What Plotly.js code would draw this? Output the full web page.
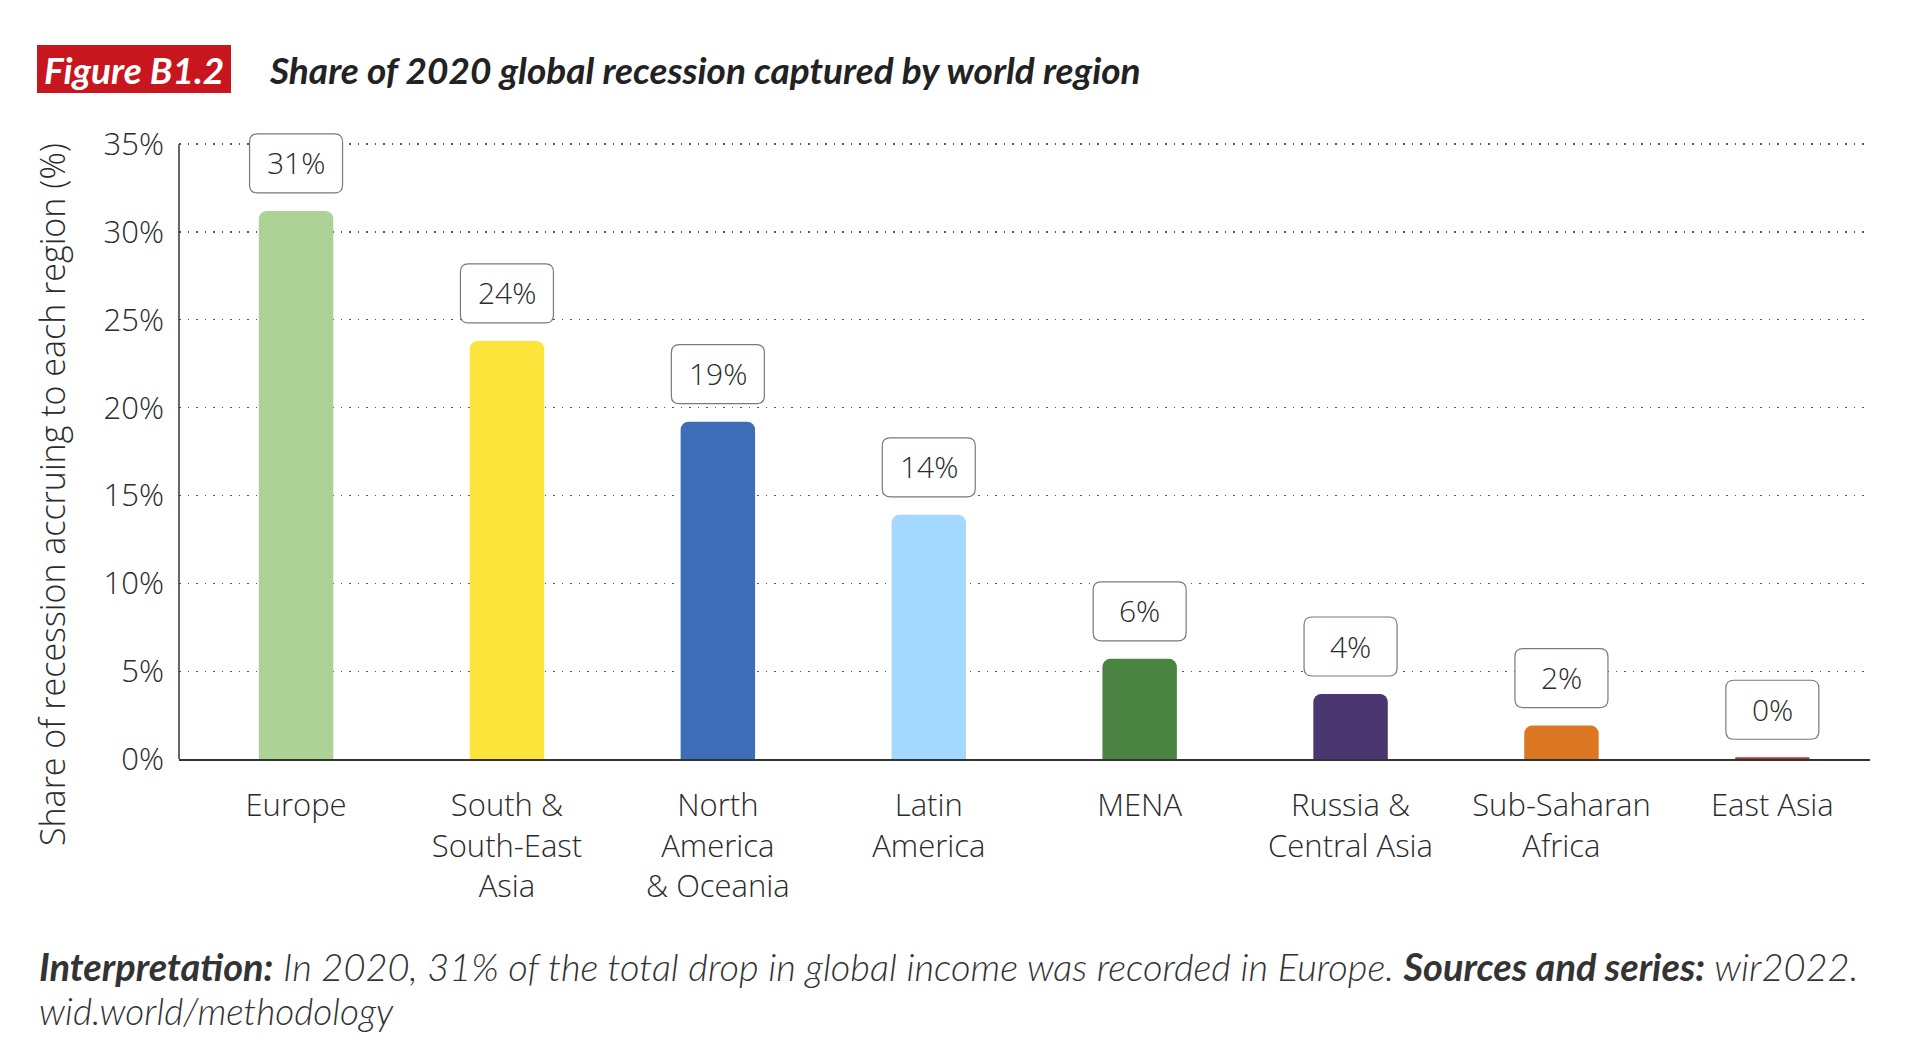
<!DOCTYPE html>
<html>
<head>
<meta charset="utf-8">
<script src="https://cdn.plot.ly/plotly-3.0.1.min.js"></script>
<style>
  html, body { margin: 0; padding: 0; background: #fff; }
  #chart { width: 1913px; height: 1064px; }
</style>
</head>
<body>
<div id="chart"></div>
<script>
// ---- data ----
const regions = ['Europe', 'South &<br>South-East<br>Asia', 'North<br>America<br>& Oceania', 'Latin<br>America', 'MENA', 'Russia &<br>Central Asia', 'Sub-Saharan<br>Africa', 'East Asia'];
const shares = [31.2, 23.8, 19.2, 13.9, 5.7, 3.7, 1.9, 0.1];
const shareLabels = ['31%', '24%', '19%', '14%', '6%', '4%', '2%', '0%'];
const barColors = ['#ADD295', '#FCE43A', '#3E6EB7', '#A4D8FE', '#4A8342', '#4B376F', '#DC7823', '#B03A2E'];
const yTickVals = [0, 5, 10, 15, 20, 25, 30, 35];
const yTickText = ['0%', '5%', '10%', '15%', '20%', '25%', '30%', '35%'];

const FONT = 'Lato, "Open Sans", sans-serif';
const AXFONT = '"Open Sans", Lato, sans-serif';
const TXT = '#2b2b2b';

const xIdx = regions.map((_, i) => i);

function roundRect(w, h, gap, r) {
  const x0 = -w / 2, x1 = w / 2, y0 = gap, y1 = gap + h;
  return `M ${x0 + r},${y0} L ${x1 - r},${y0} Q ${x1},${y0} ${x1},${y0 + r} ` +
         `L ${x1},${y1 - r} Q ${x1},${y1} ${x1 - r},${y1} L ${x0 + r},${y1} ` +
         `Q ${x0},${y1} ${x0},${y1 - r} L ${x0},${y0 + r} Q ${x0},${y0} ${x0 + r},${y0} Z`;
}

const shapes = [];
const annotations = [];

// rounded label boxes + label text
xIdx.forEach((i) => {
  shapes.push({
    type: 'path', xref: 'x', yref: 'y',
    xsizemode: 'pixel', ysizemode: 'pixel',
    xanchor: i, yanchor: shares[i],
    path: roundRect(93, 59, 18, 8),
    fillcolor: '#ffffff', line: { color: '#7a7a7a', width: 1.2 }, layer: 'above'
  });
  annotations.push({
    xref: 'x', yref: 'y', x: i, y: shares[i], yshift: 48,
    text: shareLabels[i], showarrow: false, xanchor: 'center', yanchor: 'middle',
    font: { family: AXFONT, size: 30, color: TXT, weight: 300 }
  });
});

// y axis line (0 to 35)
shapes.push({
  type: 'line', xref: 'paper', yref: 'y', x0: 0, x1: 0, y0: 0, y1: 35,
  line: { color: '#333', width: 1.5 }, layer: 'above'
});

// title red box
const L = 179, W = 1691, B = 759, H = 650;
const px = (v) => (v - L) / W;
const py = (v) => (B - v) / H;
shapes.push({
  type: 'rect', xref: 'paper', yref: 'paper',
  x0: px(37), x1: px(231), y0: py(93), y1: py(45),
  fillcolor: '#C8161E', line: { width: 0 }, layer: 'above'
});
annotations.push({
  xref: 'paper', yref: 'paper', x: px(134), y: py(69),
  text: '<b><i>Figure B1.2</i></b>', showarrow: false, xanchor: 'center', yanchor: 'middle',
  font: { family: FONT, size: 37, color: '#ffffff' }
});
annotations.push({
  xref: 'paper', yref: 'paper', x: px(267), y: py(69),
  text: '<b><i>Share of 2020 global recession captured by world region</i></b>', showarrow: false,
  xanchor: 'left', yanchor: 'middle',
  font: { family: FONT, size: 37, color: '#222' }
});
// y title
annotations.push({
  xref: 'paper', yref: 'paper', x: px(52), y: py(495),
  text: 'Share of recession accruing to each region (%)', showarrow: false, textangle: -90,
  xanchor: 'center', yanchor: 'middle',
  font: { family: AXFONT, size: 34, color: TXT, weight: 300 }
});
// footer
annotations.push({
  xref: 'paper', yref: 'paper', x: px(37), y: py(966),
  text: '<b><i>Interpretation:</i></b><i> In 2020, 31% of the total drop in global income was recorded in Europe. </i><b><i>Sources and series:</i></b><i> wir2022.</i>',
  showarrow: false, xanchor: 'left', yanchor: 'middle',
  font: { family: FONT, size: 38, color: '#333', weight: 300 }
});
annotations.push({
  xref: 'paper', yref: 'paper', x: px(37), y: py(1011),
  text: '<i>wid.world/methodology</i>',
  showarrow: false, xanchor: 'left', yanchor: 'middle',
  font: { family: FONT, size: 37, color: '#333', weight: 300 }
});

const trace = {
  type: 'bar', x: xIdx, y: shares,
  marker: { color: barColors, cornerradius: 8, line: { width: 0 } },
  width: 0.353, hoverinfo: 'skip', cliponaxis: false
};

const layout = {
  width: 1913, height: 1064,
  margin: { l: 179, r: 43, t: 109, b: 305 },
  paper_bgcolor: '#ffffff', plot_bgcolor: '#ffffff',
  showlegend: false,
  font: { family: AXFONT, color: TXT },
  xaxis: {
    range: [-0.555, 7.463], tickmode: 'array', tickvals: xIdx, ticktext: regions,
    showgrid: false, zeroline: false, showline: true, linecolor: '#333', linewidth: 2,
    ticks: '', ticklabelstandoff: 18,
    tickfont: { family: AXFONT, size: 31, color: TXT, weight: 300 }, fixedrange: true
  },
  yaxis: {
    range: [0, 37], tickmode: 'array', tickvals: yTickVals, ticktext: yTickText,
    showgrid: true, gridcolor: '#555', gridwidth: 1.3, griddash: '1.5px,7px',
    zeroline: false, showline: false, ticks: '', ticklabelstandoff: 14,
    tickfont: { family: AXFONT, size: 31, color: TXT, weight: 300 }, fixedrange: true
  },
  shapes: shapes,
  annotations: annotations
};

Plotly.newPlot('chart', [trace], layout, { staticPlot: true, displayModeBar: false });
</script>
</body>
</html>
